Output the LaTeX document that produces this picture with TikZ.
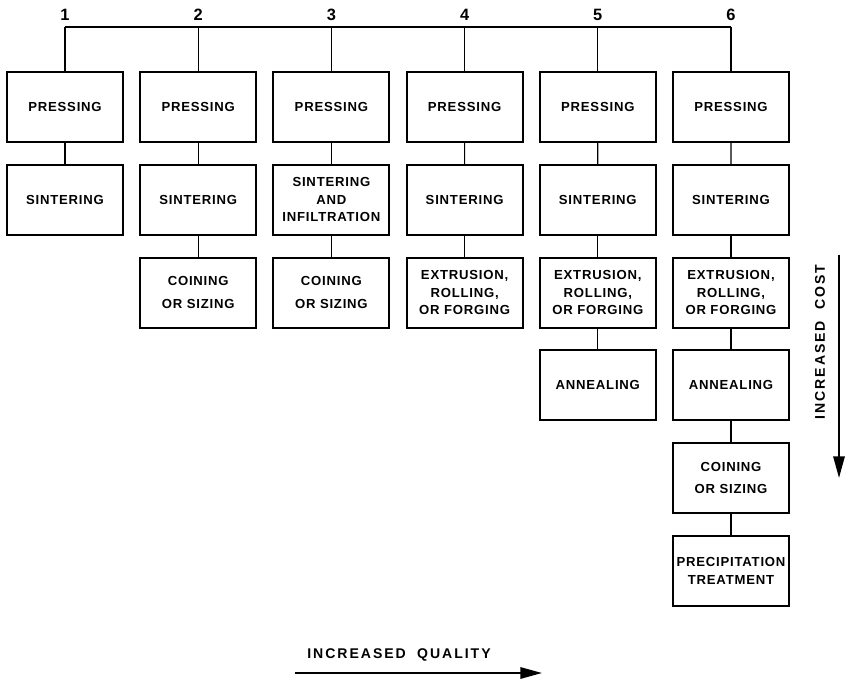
\documentclass[tikz,border=0pt]{standalone}
\usepackage{fontspec}
\setsansfont[LetterSpace=6]{Liberation Sans}
\usetikzlibrary{arrows.meta}
\tikzstyle{procbox}=[draw=black,line width=1.7pt,minimum width=3.48cm,minimum height=2.1cm,inner sep=1pt,align=center,font=\sffamily\bfseries\fontsize{11.2}{15}\selectfont]
\tikzstyle{link}=[line width=1pt]
\tikzstyle{capt}=[font=\sffamily\bfseries\fontsize{12}{14}\selectfont\addfontfeatures{LetterSpace=14}]

\begin{document}
\begin{tikzpicture}[x=0.03cm,y=-0.03cm]
	\useasboundingbox (0,0) rectangle (845,683);
	%first row and numbers
	\foreach \c in {1,...,6}
	{
	\coordinate (t\c) at ({65+133.2*(\c-1)},27);
	\node[capt,font=\sffamily\bfseries\fontsize{14}{16}\selectfont] (n\c) at ({65+133.2*(\c-1)},15) {\c};
	\node[procbox] (b\c-1) at ({65+133.2*(\c-1)},107) {PRESSING};
	}
	%sintering
	\node[procbox] (b1-2) at (65,199.8) {SINTERING};
	\node[procbox] (b2-2) at (198.2,199.8) {SINTERING};
	\node[procbox] (b3-2) at (331.4,199.8) {SINTERING\\AND\\INFILTRATION};
	\node[procbox] (b4-2) at (464.6,199.8) {SINTERING};
	\node[procbox] (b5-2) at (597.8,199.8) {SINTERING};
	\node[procbox] (b6-2) at (731,199.8) {SINTERING};
	%third row
	\node[procbox] (b2-3) at (198.2,292.6) {COINING\\[4pt]OR SIZING};
	\node[procbox] (b3-3) at (331.4,292.6) {COINING\\[4pt]OR SIZING};
	\node[procbox] (b4-3) at (464.6,292.6) {EXTRUSION,\\ROLLING,\\OR FORGING};
	\node[procbox] (b5-3) at (597.8,292.6) {EXTRUSION,\\ROLLING,\\OR FORGING};
	\node[procbox] (b6-3) at (731,292.6) {EXTRUSION,\\ROLLING,\\OR FORGING};
	%annealing and after
	\node[procbox] (b5-4) at (597.8,385.4) {ANNEALING};
	\node[procbox] (b6-4) at (731,385.4) {ANNEALING};
	\node[procbox] (b6-5) at (731,478.2) {COINING\\[4pt]OR SIZING};
	\node[procbox] (b6-6) at (731,571) {PRECIPITATION\\TREATMENT};
	%links
	\draw[link] (t1) -- (t6);
	\foreach \c in {1,...,6}
	\draw[link] (t\c) -- (b\c-1);
	\foreach \c/\n in {1/2,2/3,3/3,4/3,5/4,6/6}
	{
	\foreach \r in {2,...,\n}
	{
	\pgfmathtruncatemacro{\q}{\r-1}
	\draw[link] (b\c-\q) -- (b\c-\r);
	}
	}
	%arrows
	\coordinate (cost start) at (839,255);
	\coordinate (cost end) at (839,478);
	\draw[line width=1.7pt,-{Triangle[length=0.65cm,width=0.34cm]}] (cost start) -- (cost end);
	\node[capt,rotate=90] (cost) at (820,342) {INCREASED\hspace{0.8em}COST};
	\coordinate (quality start) at (295,673);
	\coordinate (quality end) at (542,673);
	\draw[line width=1.7pt,-{Triangle[length=0.65cm,width=0.34cm]}] (quality start) -- (quality end);
	\node[capt] (quality) at (399,655) {INCREASED\hspace{0.8em}QUALITY};
\end{tikzpicture}
\end{document}
